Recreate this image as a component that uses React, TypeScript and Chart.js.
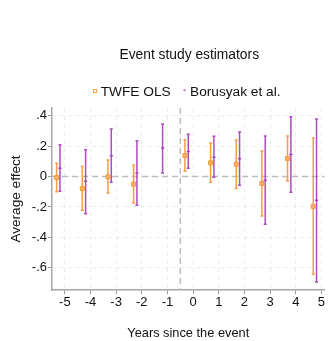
import { useEffect, useRef } from 'react';
import { Chart, registerables } from 'chart.js';

Chart.register(...registerables);

// ---- data ----
const xTicks = [-5, -4, -3, -2, -1, 0, 1, 2, 3, 4, 5];
const yTicks = [-0.6, -0.4, -0.2, 0, 0.2, 0.4];

const twfeYears = [-5, -4, -3, -2, 0, 1, 2, 3, 4, 5];
const twfeEst = [-0.007, -0.079, -0.002, -0.05, 0.138, 0.09, 0.081, -0.046, 0.119, -0.196];
const twfeLo = [-0.1, -0.222, -0.108, -0.174, 0.035, -0.037, -0.079, -0.259, -0.029, -0.642];
const twfeHi = [0.088, 0.066, 0.108, 0.075, 0.242, 0.22, 0.24, 0.167, 0.266, 0.253];

const bjsYears = [-5, -4, -3, -2, -1, 0, 1, 2, 3, 4, 5];
const bjsEst = [0.055, -0.031, 0.136, 0.024, 0.187, 0.165, 0.127, 0.116, -0.024, 0.145, -0.156];
const bjsLo = [-0.097, -0.244, -0.037, -0.189, 0.024, 0.055, -0.004, -0.057, -0.314, -0.103, -0.692];
const bjsHi = [0.209, 0.176, 0.312, 0.235, 0.345, 0.277, 0.264, 0.292, 0.266, 0.393, 0.378];

const twfeOffset = -0.32;
const bjsOffset = -0.19;
const eventLine = -0.5;

const seriesNames = ['TWFE OLS', 'Borusyak et al.'];
const chartTitle = 'Event study estimators';
const xTitle = 'Years since the event';
const yTitle = 'Average effect';

const ORANGE = 'rgba(246,146,48,0.9)';
const ORANGE_FILL = 'rgba(250,178,110,0.95)';
const PURPLE = 'rgba(165,55,185,0.9)';
const FONT = '"Liberation Sans", Arial, Helvetica, sans-serif';

const fmtY = (v: number) => {
  if (Math.abs(v) < 1e-9) return '0';
  const s = Math.abs(v).toFixed(1).replace(/^0/, '');
  return (v < 0 ? '-' : '') + s;
};

export default function App() {
  const ref = useRef<HTMLCanvasElement>(null);

  useEffect(() => {
    const canvas = ref.current;
    if (!canvas) return;

    const errorBars = {
      id: 'errorBars',
      beforeDatasetsDraw(chart: any) {
        const { ctx, chartArea } = chart;
        const x = chart.scales.x;
        const y = chart.scales.y;
        ctx.save();
        // reference lines
        ctx.lineWidth = 1.5;
        ctx.strokeStyle = '#bdbdbd';
        ctx.setLineDash([6, 4]);
        const y0 = y.getPixelForValue(0);
        ctx.beginPath();
        ctx.moveTo(chartArea.left, y0);
        ctx.lineTo(chartArea.right, y0);
        ctx.stroke();
        const xe = x.getPixelForValue(eventLine);
        ctx.beginPath();
        ctx.moveTo(xe, chartArea.top);
        ctx.lineTo(xe, chartArea.bottom);
        ctx.stroke();
        ctx.setLineDash([]);

        const draw = (xs: number[], lo: number[], hi: number[], off: number, color: string) => {
          ctx.strokeStyle = color;
          ctx.lineWidth = 1.5;
          xs.forEach((xv, i) => {
            const px = x.getPixelForValue(xv + off);
            const pl = y.getPixelForValue(lo[i]);
            const ph = y.getPixelForValue(hi[i]);
            ctx.beginPath();
            ctx.moveTo(px, pl);
            ctx.lineTo(px, ph);
            ctx.moveTo(px - 1.5, pl);
            ctx.lineTo(px + 1.5, pl);
            ctx.moveTo(px - 1.5, ph);
            ctx.lineTo(px + 1.5, ph);
            ctx.stroke();
          });
        };
        draw(twfeYears, twfeLo, twfeHi, twfeOffset, ORANGE);
        draw(bjsYears, bjsLo, bjsHi, bjsOffset, PURPLE);
        ctx.restore();
      },
      afterDraw(chart: any) {
        const { ctx, chartArea } = chart;
        ctx.save();
        ctx.fillStyle = '#111';
        ctx.textBaseline = 'alphabetic';
        ctx.textAlign = 'center';
        ctx.font = `13.8px ${FONT}`;
        const cx = (chartArea.left + chartArea.right) / 2 + 1;
        ctx.fillText(chartTitle, cx, 59);
        // legend
        ctx.textAlign = 'left';
        ctx.font = `13.7px ${FONT}`;
        ctx.strokeStyle = ORANGE;
        ctx.lineWidth = 1;
        ctx.strokeRect(93.5, 89.5, 3, 3);
        ctx.fillText(seriesNames[0], 100.7, 96);
        ctx.fillStyle = PURPLE;
        ctx.fillRect(183.5, 89.5, 2, 1.5);
        ctx.fillStyle = '#111';
        ctx.fillText(seriesNames[1], 190, 96);
        ctx.restore();
      },
    };

    const chart = new Chart(canvas, {
      type: 'scatter',
      data: {
        datasets: [
          {
            label: seriesNames[0],
            data: twfeYears.map((v, i) => ({ x: v + twfeOffset, y: twfeEst[i] })),
            pointStyle: 'rect',
            pointRadius: 2.8,
            backgroundColor: ORANGE_FILL,
            borderColor: ORANGE,
            borderWidth: 1,
          },
          {
            label: seriesNames[1],
            data: bjsYears.map((v, i) => ({ x: v + bjsOffset, y: bjsEst[i] })),
            pointStyle: 'line',
            pointRadius: 1.6,
            backgroundColor: PURPLE,
            borderColor: PURPLE,
            borderWidth: 1.5,
          },
        ],
      },
      options: {
        animation: false,
        responsive: false,
        layout: { padding: { top: 108, left: 0, right: 4, bottom: 0 } },
        plugins: {
          legend: { display: false },
          title: { display: false },
          tooltip: { enabled: false },
        },
        scales: {
          x: {
            type: 'linear',
            min: -5.5,
            max: 5.12,
            afterBuildTicks: (s: any) => {
              s.ticks = xTicks.map((v) => ({ value: v }));
            },
            afterFit: (s: any) => {
              s.height = 51;
            },
            ticks: {
              callback: (v: any) => String(v),
              color: '#111',
              font: { family: FONT, size: 13 },
              padding: 1,
              maxRotation: 0,
              autoSkip: false,
            },
            grid: {
              color: 'rgba(0,0,0,0.07)',
              lineWidth: 1,
              tickColor: '#999',
              tickLength: 4,
              tickWidth: 1,
            },
            border: { display: true, color: '#a6a6a6', width: 1.5, dash: [4, 4] },
            title: {
              display: true,
              text: xTitle,
              color: '#111',
              font: { family: FONT, size: 12.8 },
              padding: { top: 0, bottom: 0 },
            },
          },
          y: {
            type: 'linear',
            min: -0.745,
            max: 0.45,
            afterBuildTicks: (s: any) => {
              s.ticks = yTicks.map((v) => ({ value: v }));
            },
            afterFit: (s: any) => {
              s.width = 52;
            },
            ticks: {
              callback: (v: any) => fmtY(Number(v)),
              color: '#111',
              font: { family: FONT, size: 13 },
              padding: 1,
              autoSkip: false,
            },
            grid: {
              color: 'rgba(0,0,0,0.07)',
              lineWidth: 1,
              tickColor: '#999',
              tickLength: 4,
              tickWidth: 1,
            },
            border: { display: true, color: '#a6a6a6', width: 1.5, dash: [4, 4] },
            title: {
              display: true,
              text: yTitle,
              color: '#111',
              font: { family: FONT, size: 13.6 },
              padding: { top: 8, bottom: 0 },
            },
          },
        },
      },
      plugins: [errorBars],
    } as any);

    return () => chart.destroy();
  }, []);

  return (
    <div style={{ position: 'fixed', left: 0, top: 0, width: 330, height: 341, background: '#fff' }}>
      <canvas ref={ref} width={330} height={341} style={{ display: 'block' }} />
    </div>
  );
}
